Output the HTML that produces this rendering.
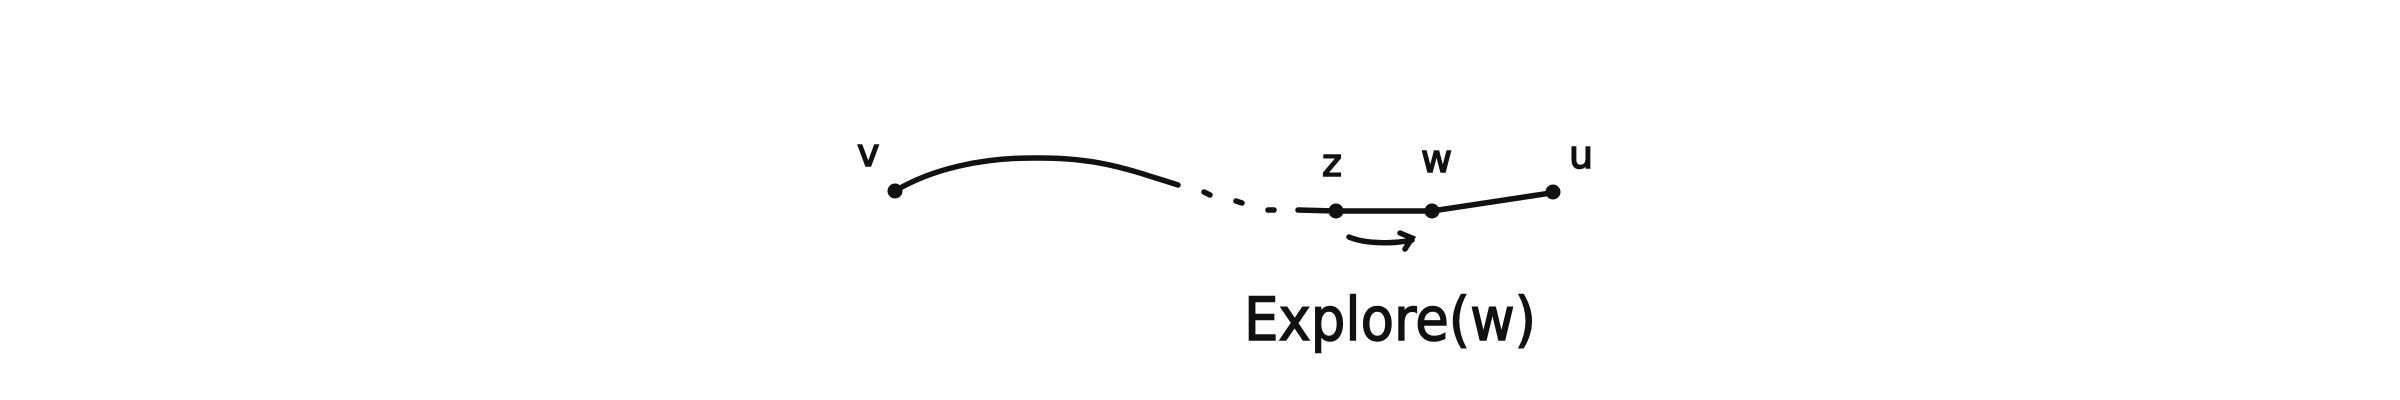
<!DOCTYPE html>
<html><head><style>
html,body{margin:0;padding:0;background:#fff;}
svg{display:block;}
text{font-family:"DejaVu Sans","Liberation Sans",sans-serif;fill:#111;stroke:#111;stroke-width:1.5;}
</style></head><body>
<svg width="2400" height="400" viewBox="0 0 2400 400" xmlns="http://www.w3.org/2000/svg">
<g fill="none" stroke="#111" stroke-width="5.5" stroke-linecap="round">
<path d="M895,191 C930,170 980,157 1040,158 C1100,158 1130,170 1178,185"/>
<path d="M1204,192 L1210,195"/>
<path d="M1236,201 L1242,203"/>
<path d="M1268,210 L1274,210"/>
<path d="M1298,210 L1336,211 L1432,211 C1480,204 1520,198 1551,193"/>
<path d="M1349,237 C1365,244 1395,244 1412,240"/>
<path d="M1400,233 L1412,238 L1405,249"/>
</g>
<g fill="#111">
<circle cx="895" cy="191" r="7.5"/>
<circle cx="1336" cy="211" r="7.5"/>
<circle cx="1432" cy="211" r="7.5"/>
<circle cx="1553" cy="192" r="7.5"/>
</g>
<text x="857" y="166" font-size="38">v</text>
<text x="1322" y="176" font-size="38">z</text>
<text x="1421" y="172" font-size="38">w</text>
<text x="1569" y="168" font-size="38">u</text>
<text x="1244" y="340" font-size="60" textLength="292" lengthAdjust="spacingAndGlyphs">Explore(w)</text>
</svg>
</body></html>
